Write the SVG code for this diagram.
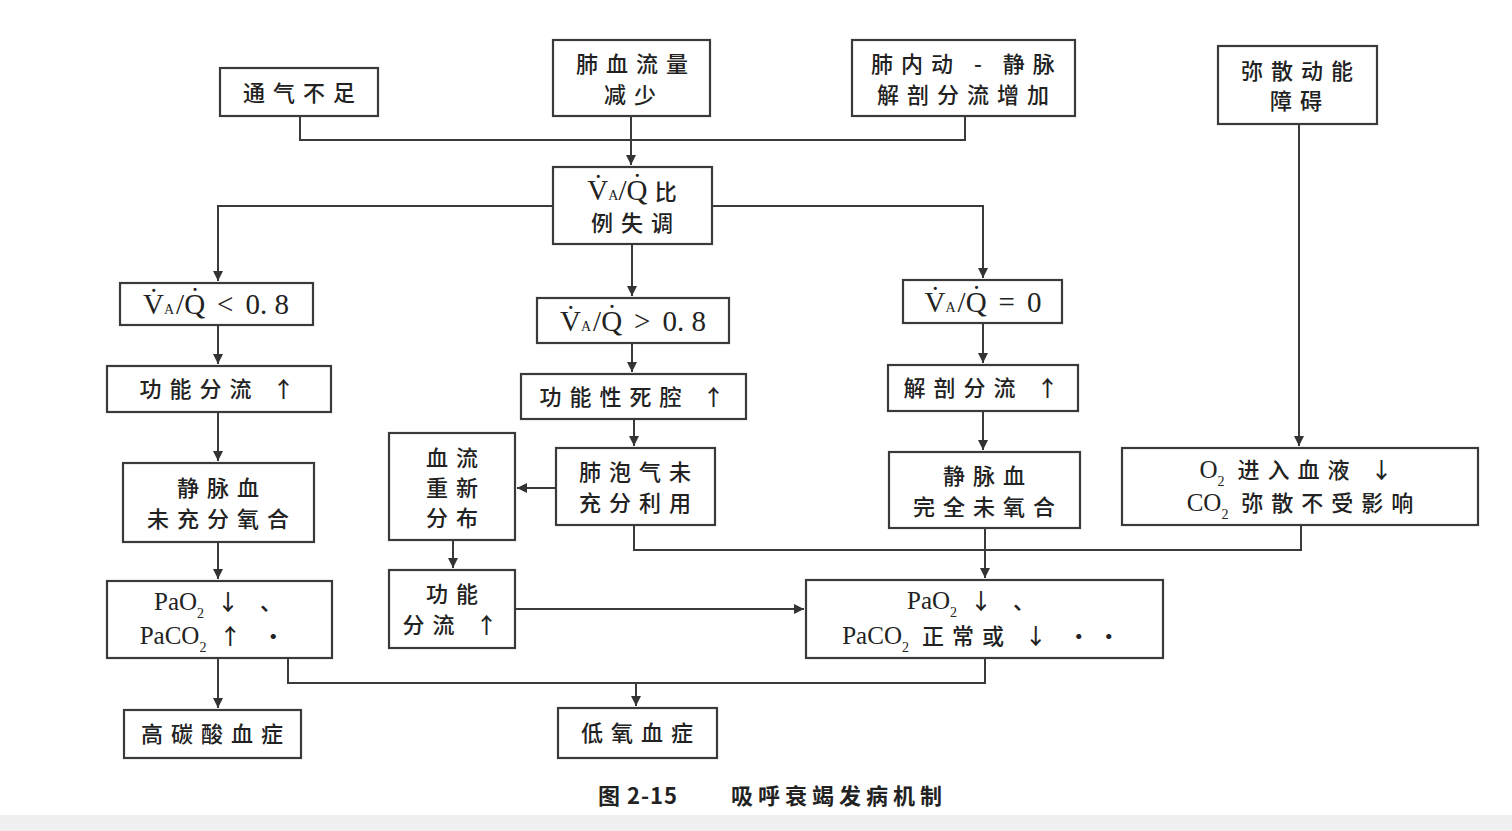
<svg xmlns="http://www.w3.org/2000/svg" width="1512" height="831" viewBox="0 0 1512 831">
<defs>
<marker id="ah" viewBox="0 0 10 10" refX="10" refY="5" markerWidth="10" markerHeight="10" markerUnits="userSpaceOnUse" orient="auto">
<path d="M0,0 L10,5 L0,10 z" fill="#333"/>
</marker>
<style>
.b{fill:#fff;stroke:#3a3a3a;stroke-width:2.2}
.t{font-family:"Noto Sans CJK SC","Liberation Serif",sans-serif;font-size:22px;font-weight:500;fill:#222;text-anchor:middle;letter-spacing:8px}
.s{font-family:"Liberation Serif","Noto Sans CJK SC",serif;letter-spacing:0;font-size:25px}
.q{font-family:"Liberation Serif","Noto Sans CJK SC",serif;letter-spacing:0;font-size:29px}
.u{font-family:"Liberation Serif",serif;letter-spacing:0;font-size:14px}
.c{fill:none;stroke:#3a3a3a;stroke-width:2}
.a{fill:none;stroke:#3a3a3a;stroke-width:2;marker-end:url(#ah)}
</style>
</defs>
<rect x="0" y="0" width="1512" height="831" fill="#fff"/>
<rect x="0" y="815" width="1512" height="16" fill="#f0f0f0"/>

<g id="connectors">
<path class="c" d="M300,116 V140 H965 V116"/>
<path class="a" d="M631,116 V165"/>
<path class="a" d="M553,206 H218 V281"/>
<path class="a" d="M712,206 H983 V278"/>
<path class="a" d="M632,244 V296"/>
<path class="a" d="M218,325 V364"/>
<path class="a" d="M632,343 V372"/>
<path class="a" d="M983,323 V363"/>
<path class="a" d="M218,412 V461"/>
<path class="a" d="M634,419 V446"/>
<path class="a" d="M983,411 V450"/>
<path class="a" d="M1299,124 V446"/>
<path class="a" d="M556,488 H517"/>
<path class="a" d="M453,540 V568"/>
<path class="a" d="M218,542 V579"/>
<path class="c" d="M634,525 V550 H1301 V525"/>
<path class="a" d="M985,528 V578"/>
<path class="a" d="M515,609 H804"/>
<path class="a" d="M218,658 V708"/>
<path class="c" d="M288,658 V683 H985 V658"/>
<path class="a" d="M636,683 V706"/>
</g>

<g id="n1"><rect class="b" x="220" y="68" width="158" height="48"/><text class="t" x="303" y="101">通气不足</text></g>
<g id="n2"><rect class="b" x="553" y="40" width="157" height="76"/><text class="t" x="636" y="72">肺血流量</text><text class="t" x="634" y="103">减少</text></g>
<g id="n3"><rect class="b" x="852" y="40" width="223" height="76"/><text class="t" x="967" y="72">肺内动 - 静脉</text><text class="t" x="967" y="103">解剖分流增加</text></g>
<g id="n4"><rect class="b" x="1218" y="46" width="159" height="78"/><text class="t" x="1301" y="79">弥散动能</text><text class="t" x="1300" y="109">障碍</text></g>

<g id="n5"><rect class="b" x="553" y="167" width="159" height="77"/>
<text class="t" x="636" y="200"><tspan class="q">V̇</tspan><tspan class="u">A</tspan><tspan class="q">/Q̇ </tspan>比</text>
<text class="t" x="636" y="231">例失调</text></g>

<g id="n6"><rect class="b" x="120" y="283" width="193" height="42"/>
<text class="t" x="216" y="314"><tspan class="q">V̇</tspan><tspan class="u">A</tspan><tspan class="q" dx="2">/Q̇</tspan><tspan class="q" dx="12" font-size="34">&lt;</tspan><tspan class="q" dx="12">0. 8</tspan></text></g>
<g id="n7"><rect class="b" x="537" y="298" width="192" height="45"/>
<text class="t" x="633" y="331"><tspan class="q">V̇</tspan><tspan class="u">A</tspan><tspan class="q" dx="2">/Q̇</tspan><tspan class="q" dx="12" font-size="34">&gt;</tspan><tspan class="q" dx="12">0. 8</tspan></text></g>
<g id="n8"><rect class="b" x="903" y="280" width="159" height="43"/>
<text class="t" x="983" y="312"><tspan class="q">V̇</tspan><tspan class="u">A</tspan><tspan class="q" dx="2">/Q̇</tspan><tspan class="q" dx="12" font-size="32">=</tspan><tspan class="q" dx="12">0</tspan></text></g>

<g id="n9"><rect class="b" x="107" y="366" width="224" height="46"/><text class="t" x="221" y="397">功能分流 ↑</text></g>
<g id="n10"><rect class="b" x="521" y="374" width="225" height="45"/><text class="t" x="636" y="405">功能性死腔 ↑</text></g>
<g id="n11"><rect class="b" x="888" y="365" width="190" height="46"/><text class="t" x="985" y="396">解剖分流 ↑</text></g>

<g id="n12"><rect class="b" x="123" y="463" width="191" height="79"/><text class="t" x="222" y="496">静脉血</text><text class="t" x="222" y="527">未充分氧合</text></g>
<g id="n13"><rect class="b" x="389" y="433" width="126" height="107"/><text class="t" x="456" y="466">血流</text><text class="t" x="456" y="496">重新</text><text class="t" x="456" y="526">分布</text></g>
<g id="n14"><rect class="b" x="556" y="448" width="159" height="77"/><text class="t" x="639" y="480">肺泡气未</text><text class="t" x="639" y="511">充分利用</text></g>
<g id="n15"><rect class="b" x="889" y="452" width="191" height="76"/><text class="t" x="988" y="484">静脉血</text><text class="t" x="988" y="515">完全未氧合</text></g>
<g id="n16"><rect class="b" x="1122" y="448" width="356" height="77"/>
<text class="t" x="1300" y="478"><tspan class="s">O</tspan><tspan class="u" baseline-shift="sub">2</tspan> 进入血液 ↓</text>
<text class="t" x="1304" y="511"><tspan class="s">CO</tspan><tspan class="u" baseline-shift="sub">2</tspan> 弥散不受影响</text></g>

<g id="n17"><rect class="b" x="389" y="570" width="126" height="78"/><text class="t" x="456" y="602">功能</text><text class="t" x="454" y="633">分流 ↑</text></g>
<g id="n18"><rect class="b" x="107" y="581" width="225" height="77"/>
<text class="t" x="222" y="610"><tspan class="s">PaO</tspan><tspan class="u" baseline-shift="sub">2</tspan> ↓ 、</text>
<text class="t" x="216" y="644"><tspan class="s">PaCO</tspan><tspan class="u" baseline-shift="sub">2</tspan> ↑ ·</text></g>
<g id="n19"><rect class="b" x="806" y="580" width="357" height="78"/>
<text class="t" x="975" y="609"><tspan class="s">PaO</tspan><tspan class="u" baseline-shift="sub">2</tspan> ↓ 、</text>
<text class="t" x="985" y="644"><tspan class="s">PaCO</tspan><tspan class="u" baseline-shift="sub">2</tspan> 正常或 ↓ ··</text></g>

<g id="n20"><rect class="b" x="124" y="710" width="177" height="48"/><text class="t" x="216" y="742">高碳酸血症</text></g>
<g id="n21"><rect class="b" x="558" y="708" width="159" height="50"/><text class="t" x="641" y="741">低氧血症</text></g>

<g id="caption" font-family="Noto Sans CJK SC, sans-serif" font-size="22" font-weight="bold" fill="#222">
<text x="598" y="804" letter-spacing="1">图 2-15</text>
<text x="731" y="804" letter-spacing="5">吸呼衰竭发病机制</text>
</g>
</svg>
